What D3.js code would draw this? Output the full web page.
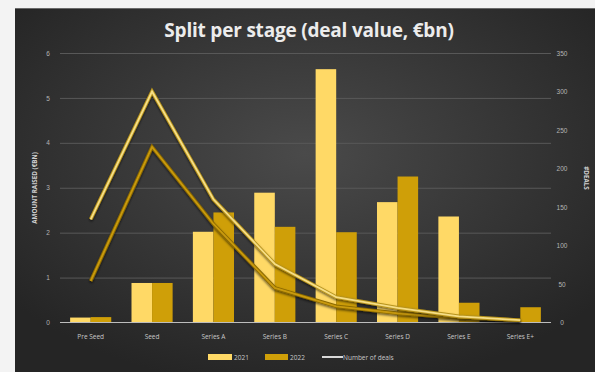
<!DOCTYPE html>
<html>
<head>
<meta charset="utf-8">
<script src="https://cdn.jsdelivr.net/npm/d3@7"></script>
<style>
  html, body { margin: 0; padding: 0; background: #f3f3f3; }
  svg { display: block; font-family: "Open Sans", "Liberation Sans", sans-serif; }
</style>
</head>
<body>
<svg id="chart" width="595" height="372"></svg>
<script>
// Stages and values
const categories = ["Pre Seed", "Seed", "Series A", "Series B", "Series C", "Series D", "Series E", "Series E+"];
const years = ["2021", "2022"];
const amount2021 = [0.11, 0.88, 2.02, 2.89, 5.64, 2.68, 2.36, 0];
const amount2022 = [0.12, 0.88, 2.45, 2.13, 2.01, 3.25, 0.44, 0.34];
const deals2021 = [134, 300, 160, 76, 33, 19, 8, 3];
const deals2022 = [54, 228, 128, 45, 21, 12, 6, 3];
const leftTicks = [0, 1, 2, 3, 4, 5, 6];
const rightTicks = [0, 50, 100, 150, 200, 250, 300, 350];

const svg = d3.select("#chart");
const W = 595, H = 372;

const defs = svg.append("defs");
const bg = defs.append("radialGradient").attr("id", "panelBg")
  .attr("cx", "50%").attr("cy", "40%").attr("r", "65%");
bg.append("stop").attr("offset", "0%").attr("stop-color", "#4a4a4a");
bg.append("stop").attr("offset", "100%").attr("stop-color", "#252525");

const shadow = defs.append("filter").attr("id", "lineShadow")
  .attr("x", "-10%").attr("y", "-10%").attr("width", "120%").attr("height", "130%");
shadow.append("feDropShadow").attr("dx", 0).attr("dy", 1.5).attr("stdDeviation", 1.2)
  .attr("flood-color", "#000").attr("flood-opacity", 0.6);

// Dark panel
svg.append("rect").attr("x", 15).attr("y", 8).attr("width", W - 15).attr("height", H - 8)
  .attr("fill", "url(#panelBg)");
svg.append("line").attr("x1", 15).attr("x2", W).attr("y1", 8.5).attr("y2", 8.5)
  .attr("stroke", "#6a6a6a").attr("stroke-width", 1);

const plot = { left: 60, right: 551, top: 53, bottom: 322.5 };

const x = d3.scaleBand().domain(categories).range([plot.left, plot.right])
  .paddingInner(0.33).paddingOuter(0.165);
const xSub = d3.scaleBand().domain(years).range([0, x.bandwidth()]).padding(0);
const y = d3.scaleLinear().domain([0, 6]).range([plot.bottom, plot.top]);
const y2 = d3.scaleLinear().domain([0, 350]).range([plot.bottom, plot.top]);

// Title
svg.append("text").attr("x", 309).attr("y", 37).attr("text-anchor", "middle")
  .attr("fill", "#ececec").attr("font-size", 19).attr("font-weight", 700)
  .attr("letter-spacing", -0.2)
  .text("Split per stage (deal value, €bn)");

// Gridlines and left axis
const gridAxis = d3.axisLeft(y).tickValues(leftTicks).tickSize(-(plot.right - plot.left))
  .tickFormat(d3.format("d")).tickPadding(9);
const gL = svg.append("g").attr("transform", `translate(${plot.left},0)`).call(gridAxis);
gL.select(".domain").remove();
gL.selectAll(".tick line").attr("stroke", "#585858").attr("stroke-width", 1)
  .attr("stroke-opacity", d => d === 0 ? 0 : 1);
gL.selectAll(".tick text").attr("fill", "#b5b5b5").attr("font-size", 6.5)
  .attr("text-anchor", "middle").attr("x", -12);

// Right axis
const rAxis = d3.axisRight(y2).tickValues(rightTicks).tickSize(0).tickFormat(d3.format("d"));
const gR = svg.append("g").attr("transform", `translate(${plot.right},0)`).call(rAxis);
gR.select(".domain").remove();
gR.selectAll(".tick text").attr("fill", "#b5b5b5").attr("font-size", 6.5)
  .attr("text-anchor", "middle").attr("x", 11);

// Axis titles
svg.append("text").attr("transform", "translate(37,188) rotate(-90)")
  .attr("text-anchor", "middle").attr("fill", "#d0d0d0").attr("font-size", 6.3)
  .attr("font-weight", 700).text("AMOUNT RAISED (€BN)");
svg.append("text").attr("transform", "translate(584,178) rotate(90)")
  .attr("text-anchor", "middle").attr("fill", "#d0d0d0").attr("font-size", 6.3)
  .attr("font-weight", 700).text("#DEALS");

// Bars
const colors = { "2021": "#ffd966", "2022": "#cf9f08" };
const rows = categories.map((c, i) => ({ cat: c, values: [
  { year: "2021", v: amount2021[i] }, { year: "2022", v: amount2022[i] }] }));
const groups = svg.append("g").selectAll("g").data(rows).join("g")
  .attr("transform", d => `translate(${x(d.cat)},0)`);
groups.selectAll("rect").data(d => d.values).join("rect")
  .attr("x", d => xSub(d.year)).attr("width", xSub.bandwidth())
  .attr("y", d => y(d.v)).attr("height", d => y(0) - y(d.v))
  .attr("fill", d => colors[d.year]);

// Baseline
svg.append("line").attr("x1", plot.left).attr("x2", plot.right)
  .attr("y1", y(0)).attr("y2", y(0)).attr("stroke", "#bdbdbd").attr("stroke-width", 1.2);

// Deal count lines
const cx = c => x(c) + x.bandwidth() / 2;
const line = d3.line().x((d, i) => cx(categories[i])).y(d => y2(d));
const lineStyles = [
  { data: deals2022, outer: "#8c6a04", inner: "#c99a0a" },
  { data: deals2021, outer: "#b8941c", inner: "#f6de86" }
];
lineStyles.forEach(s => {
  const g = svg.append("g").attr("filter", "url(#lineShadow)");
  g.append("path").attr("d", line(s.data)).attr("fill", "none")
    .attr("stroke", s.outer).attr("stroke-width", 3.6).attr("stroke-linejoin", "miter");
  g.append("path").attr("d", line(s.data)).attr("fill", "none")
    .attr("stroke", s.inner).attr("stroke-width", 1.8).attr("stroke-linejoin", "miter");
});

// Category labels
svg.append("g").selectAll("text").data(categories).join("text")
  .attr("x", d => cx(d)).attr("y", 339).attr("text-anchor", "middle")
  .attr("fill", "#c8c8c8").attr("font-size", 6.5).text(d => d);

// Legend
const lg = svg.append("g").attr("font-size", 6.5).attr("fill", "#c8c8c8");
lg.append("rect").attr("x", 208).attr("y", 354).attr("width", 24).attr("height", 6).attr("fill", colors["2021"]);
lg.append("text").attr("x", 234).attr("y", 359.5).text("2021");
lg.append("rect").attr("x", 265).attr("y", 354).attr("width", 23).attr("height", 6).attr("fill", colors["2022"]);
lg.append("text").attr("x", 290).attr("y", 359.5).text("2022");
lg.append("line").attr("x1", 322).attr("x2", 343).attr("y1", 357).attr("y2", 357)
  .attr("stroke", "#d8d8d8").attr("stroke-width", 2);
lg.append("text").attr("x", 343).attr("y", 359.5).text("Number of deals");
</script>
</body>
</html>
